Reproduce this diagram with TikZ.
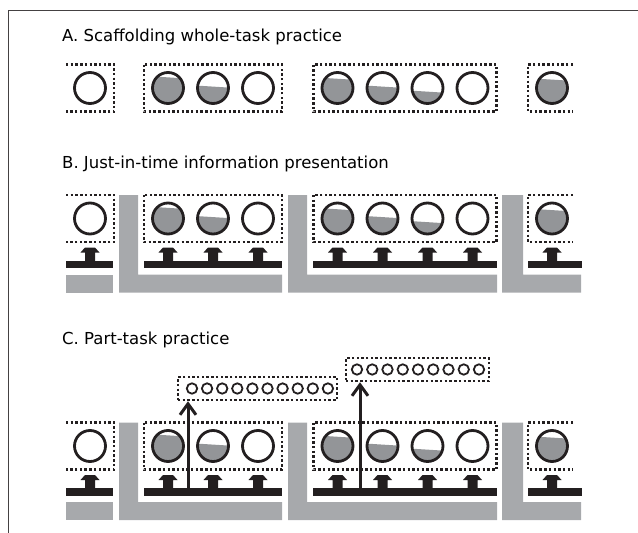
\documentclass[tikz,border=0pt]{standalone}
\usepackage{fontspec}
\newfontfamily\titlefont{DejaVu Sans}
\usetikzlibrary{arrows.meta}

\definecolor{inkblack}{HTML}{231F20}
\definecolor{fillgray}{HTML}{939598}
\definecolor{bargray}{HTML}{A7A9AC}

\tikzset{
  dotbox/.style={inkblack, line width=2.5pt, dash pattern=on 2.4pt off 2.3pt},
  taskcircle/.style={inkblack, line width=2.8pt},
  smallcircle/.style={inkblack, line width=1.8pt},
  rowtitle/.style={anchor=west, inner sep=0pt, font=\titlefont\fontsize{16.5}{19}\selectfont},
  partarrow/.style={inkblack, line width=3pt, -{Straight Barb[length=11pt,width=16pt,line width=3pt]}},
}

% whole tasks: dotted boxes with circles, #1 = y of the circle centres
\newcommand{\taskrow}[1]{%
  \draw[dotbox] (66,#1-23.5) -- (114,#1-23.5) -- (114,#1+23.5) -- (66,#1+23.5); % open on the left
  \draw[dotbox] (144,#1-23.5) rectangle (282,#1+23.5);
  \draw[dotbox] (313.5,#1-23.5) rectangle (496.5,#1+23.5);
  \draw[dotbox] (573,#1-23.5) -- (528,#1-23.5) -- (528,#1+23.5) -- (573,#1+23.5); % open on the right
  \foreach \cx/\lvl in {90/-0.2, 168/0.88, 213/0.55, 258/-0.2, 337.5/0.83, 382.5/0.55, 427.5/0.37, 472.5/-0.2, 552/0.8} {
    \begin{scope}
      \clip (\cx,#1) circle (15.5);
      \fill[fillgray] (\cx-16,#1+16) -- (\cx-16,{#1+13-28*\lvl}) -- (\cx+16,{#1+15-28*\lvl}) -- (\cx+16,#1+16) -- cycle; % support level
    \end{scope}
    \draw[taskcircle] (\cx,#1) circle (15.5);
  }
}

% support under the tasks: block arrows, black bars, gray L shapes
\newcommand{\supportrow}[1]{%
  \fill[bargray] (66,#1+56) rectangle (113,#1+74);
  \fill[bargray] (119,#1-23.5) -- (138,#1-23.5) -- (138,#1+56) -- (282,#1+56) -- (282,#1+74) -- (119,#1+74) -- cycle;
  \fill[bargray] (288,#1-23.5) -- (307,#1-23.5) -- (307,#1+56) -- (497,#1+56) -- (497,#1+74) -- (288,#1+74) -- cycle;
  \fill[bargray] (502,#1-23.5) -- (523,#1-23.5) -- (523,#1+56) -- (581,#1+56) -- (581,#1+74) -- (502,#1+74) -- cycle;
  \foreach \xa/\xb in {66/113, 144/282, 313/497, 528/582}
    \fill[inkblack] (\xa,#1+42) rectangle (\xb,#1+49.5); % bar
  \foreach \cx in {90, 168, 213, 258, 337.5, 382.5, 427.5, 472.5, 552}
    \fill[inkblack] (\cx-9.5,#1+34) -- (\cx-5,#1+29) -- (\cx+5,#1+29) -- (\cx+9.5,#1+34) -- (\cx+5,#1+34)
      -- (\cx+5,#1+43) -- (\cx-5,#1+43) -- (\cx-5,#1+34) -- cycle; % block arrow
}

\begin{document}
\begin{tikzpicture}[x=1pt, y=-1pt]
  \useasboundingbox (0,0) rectangle (638,533);
  \draw[inkblack!85, line width=1pt] (8,533) -- (8,10) -- (638,10); % frame

  % A
  \node[rowtitle] (titleA) at (62,37) {A. Scaffolding whole-task practice};
  \taskrow{88}

  % B
  \node[rowtitle] (titleB) at (62,164) {B. Just-in-time information presentation};
  \supportrow{218.5}
  \taskrow{218.5}

  % C
  \node[rowtitle] (titleC) at (62,340) {C. Part-task practice};
  \supportrow{446}
  \taskrow{446}
  \node[dotbox, draw, inner sep=0pt, minimum width=159pt, minimum height=23pt] (partA) at (257.5,388.5) {};
  \node[dotbox, draw, inner sep=0pt, minimum width=143pt, minimum height=23pt] (partB) at (417.5,369.5) {};
  \foreach \i in {0,...,9} \draw[smallcircle] (192+15.1*\i,388.5) circle (5.2);
  \foreach \i in {0,...,8} \draw[smallcircle] (357+15.25*\i,369.5) circle (5.2);
  \coordinate (stemA) at (188,488);
  \coordinate (stemB) at (360,488);
  \draw[partarrow] (stemA) -- (partA.south -| stemA); % to first part-task
  \draw[partarrow] (stemB) -- (partB.south -| stemB); % to second part-task
\end{tikzpicture}
\end{document}
